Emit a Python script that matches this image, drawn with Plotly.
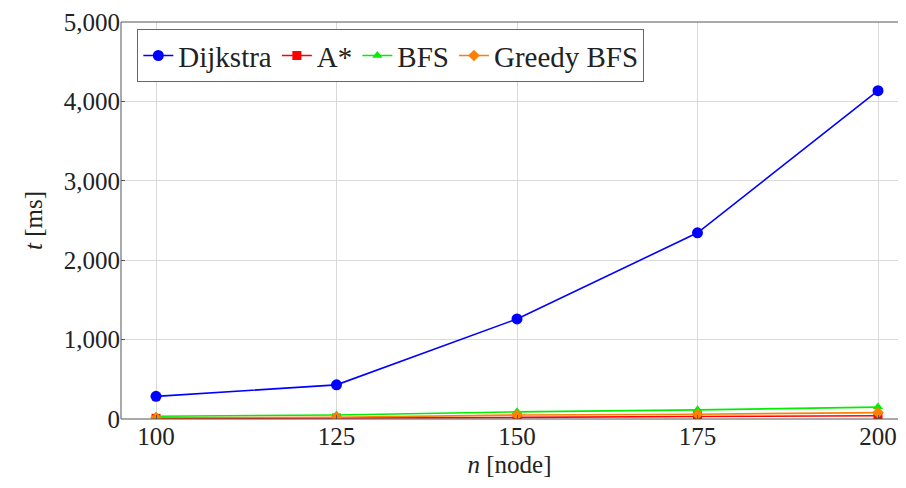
import plotly.graph_objects as go

n_nodes = [100, 125, 150, 175, 200]
dijkstra = [285, 430, 1260, 2345, 4135]
a_star = [8, 12, 20, 32, 40]
bfs = [35, 50, 90, 115, 150]
greedy_bfs = [15, 22, 50, 60, 80]
y_ticks = [0, 1000, 2000, 3000, 4000, 5000]

FONT = "Liberation Serif"
FS = 25

fig = go.Figure()
series = [
    ("Dijkstra", dijkstra, "#0000ff", "circle", 11),
    ("A*", a_star, "#ff0000", "square", 9),
    ("BFS", bfs, "#00ee00", "triangle-up", 9),
    ("Greedy BFS", greedy_bfs, "#ff8000", "diamond", 9),
]
for name, vals, col, sym, sz in series:
    fig.add_trace(go.Scatter(
        x=n_nodes, y=vals, name=name, mode="lines+markers",
        line=dict(color=col, width=1.6),
        marker=dict(symbol=sym, size=sz, color=col, line=dict(width=0)),
    ))

# frame: left, top, bottom (no right edge visible in the reference)
for x0, y0, x1, y1 in [(0, 0, 0, 1), (0, 1, 1, 1), (0, 0, 1, 0)]:
    fig.add_shape(type="line", xref="x domain", yref="y domain",
                  x0=x0, y0=y0, x1=x1, y1=y1,
                  line=dict(color="#555555", width=1), layer="above")

# page body has an 8px margin, so the figure is sized/offset to fit the window
fig.update_layout(
    width=890, height=472,
    margin=dict(l=113, r=0, t=14, b=61, autoexpand=False),
    paper_bgcolor="white", plot_bgcolor="white",
    font=dict(family=FONT, size=FS, color="#222222"),
    showlegend=True,
    legend=dict(
        orientation="h", x=0.021, y=0.982, xanchor="left", yanchor="top",
        bgcolor="white", bordercolor="#666666", borderwidth=1,
        font=dict(family=FONT, size=29, color="#222222"),
        itemwidth=30, tracegroupgap=0,
    ),
    xaxis=dict(
        range=[95.15, 202.77], tickvals=n_nodes, automargin=False,
        showgrid=True, gridcolor="#d9d9d9", gridwidth=1,
        showline=False,
        ticks="inside", ticklen=4, tickcolor="#555555",
        zeroline=False,
        title=dict(text="<i>n</i> [node]", font=dict(family=FONT, size=FS), standoff=6),
    ),
    yaxis=dict(
        range=[0, 5000], tickvals=y_ticks, tickformat=",", automargin=False,
        showgrid=True, gridcolor="#d9d9d9", gridwidth=1,
        showline=False,
        ticks="inside", ticklen=4, tickcolor="#555555",
        zeroline=False,
        title=dict(text="<i>t</i> [ms]", font=dict(family=FONT, size=FS), standoff=14),
    ),
)

fig.write_html("out.html")
